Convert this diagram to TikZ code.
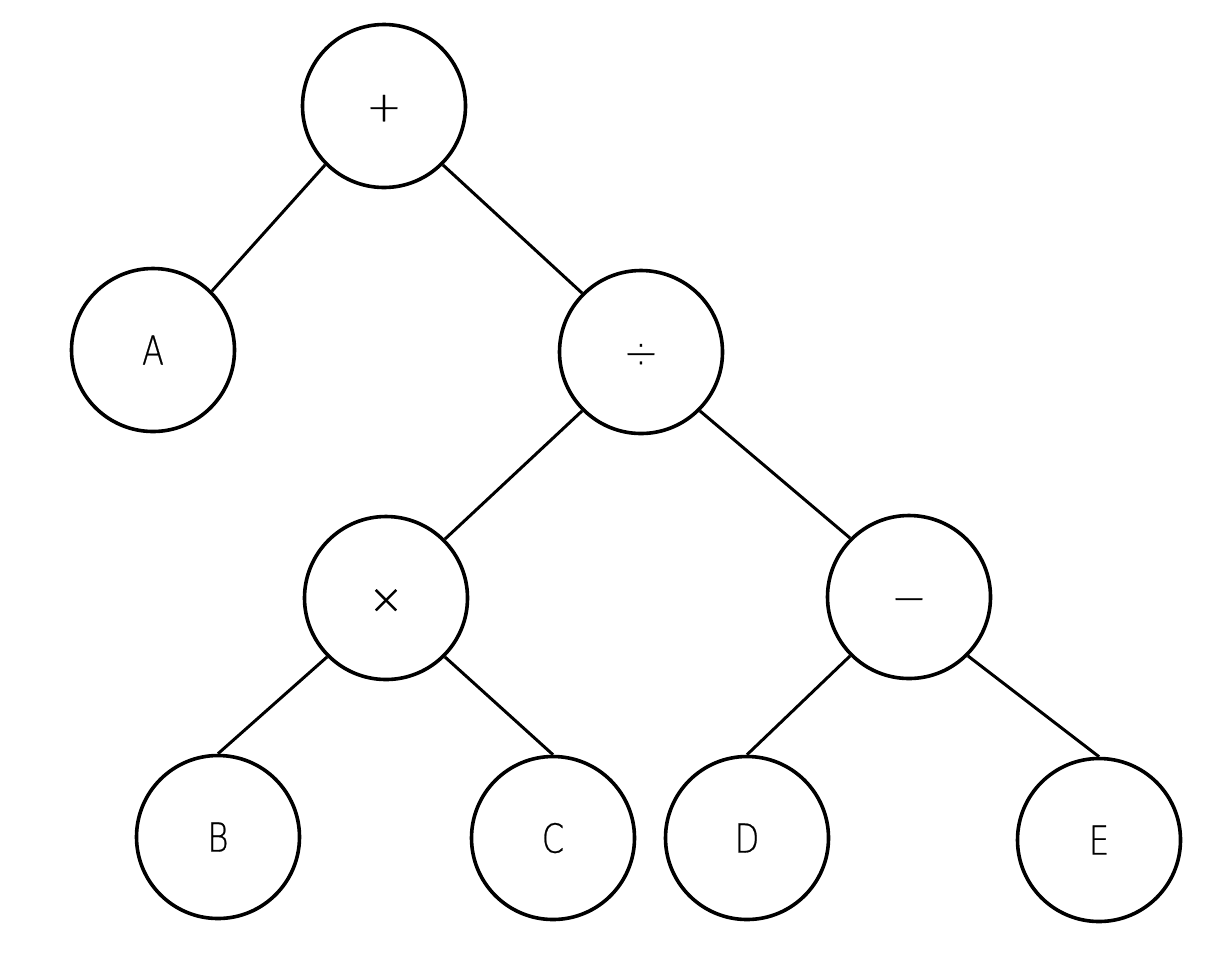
\documentclass[tikz,border=0pt]{standalone}
\usepackage{fontspec}
\newfontfamily\lblfont{DejaVu Sans ExtraLight}[FakeStretch=0.8,FakeBold=0.6]
\newfontfamily\opfont{DejaVu Sans ExtraLight}[FakeBold=0.6]
\begin{document}
\begin{tikzpicture}[x=0.5pt,y=-0.5pt,
  tnode/.style={circle,draw=black,line width=1.8pt,minimum size=81.5pt,inner sep=0pt,
    font=\lblfont\fontsize{20}{24}\selectfont,text height=14.6pt,text depth=0pt},
  opnode/.style={tnode,font=\opfont\fontsize{21}{25}\selectfont,text height=15.3pt},
  tedge/.style={draw=black,line width=1.5pt}]
\useasboundingbox (0,0) rectangle (1224,976);
\node[opnode] (plus)  at (384,106) {+};
\node[tnode]  (A)     at (153,350) {A};
\node[opnode] (div)   at (641,352) {÷};
\node[opnode] (times) at (386,598) {×};
\node[opnode] (minus) at (909,597) {−};
\node[tnode]  (B)     at (218,837) {B};
\node[tnode]  (C)     at (553,838) {C};
\node[tnode]  (D)     at (747,838) {D};
\node[tnode]  (E)     at (1099,840) {E};
\draw[tedge] (plus.south west) -- (A.north east);
\draw[tedge] (plus.south east) -- (div.north west);
\draw[tedge] (div.south west) -- (times.north east);
\draw[tedge] (div.south east) -- (minus.north west);
\draw[tedge] (times.south west) -- (B.north);
\draw[tedge] (times.south east) -- (C.north);
\draw[tedge] (minus.south west) -- (D.north);
\draw[tedge] (minus.south east) -- (E.north);
\end{tikzpicture}
\end{document}
